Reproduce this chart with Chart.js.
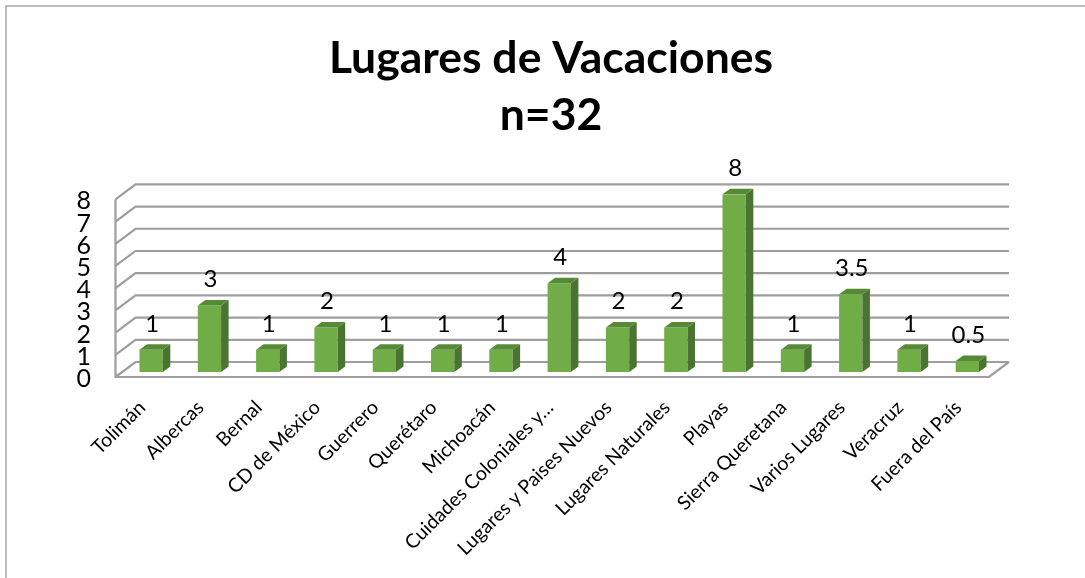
<!DOCTYPE html>
<html>
<head>
<meta charset="utf-8">
<title>Lugares de Vacaciones</title>
<script src="https://cdn.jsdelivr.net/npm/chart.js@4"></script>
<style>
  html, body { margin: 0; padding: 0; background: #fff; overflow: hidden; }
  canvas { display: block; }
</style>
</head>
<body>
<canvas id="myChart" width="1085" height="578"></canvas>
<script>
var titleLines = ["Lugares de Vacaciones", "n=32"];
var categories = [
  "Tolimán", "Albercas", "Bernal", "CD de México", "Guerrero", "Querétaro",
  "Michoacán", "Cuidades Coloniales y…", "Lugares y Paises Nuevos",
  "Lugares Naturales", "Playas", "Sierra Queretana", "Varios Lugares",
  "Veracruz", "Fuera del País"
];
var yValues = [1, 3, 1, 2, 1, 1, 1, 4, 2, 2, 8, 1, 3.5, 1, 0.5];
var yTicks = [0, 1, 2, 3, 4, 5, 6, 7, 8];

var fontName = "Lato, Carlito, Calibri, sans-serif";
var gridColor = "#9e9e9e";

// fake 3D: walls and floor behind the bars, sides and tops on them
var walls = {
  id: "walls",
  beforeDatasetsDraw: function (chart) {
    var ctx = chart.ctx;
    var y = chart.scales.y;
    var left = chart.chartArea.left - 6.5;
    var right = chart.chartArea.right - 7.5;
    ctx.save();
    ctx.strokeStyle = gridColor;
    ctx.lineWidth = 2.2;
    yTicks.forEach(function (t) {
      var py = y.getPixelForValue(t) + 5;
      ctx.beginPath();
      ctx.moveTo(left, py);
      ctx.lineTo(left + 20, py - 15);
      ctx.lineTo(right + 20, py - 15);
      ctx.stroke();
    });
    ctx.beginPath();
    ctx.moveTo(left, y.getPixelForValue(8) + 5);
    ctx.lineTo(left, y.getPixelForValue(0) + 5);
    ctx.lineTo(right, y.getPixelForValue(0) + 5);
    ctx.lineTo(right + 20, y.getPixelForValue(0) - 10);
    ctx.stroke();
    ctx.restore();
  },
  afterDatasetsDraw: function (chart) {
    var ctx = chart.ctx;
    var bars = chart.getDatasetMeta(0).data;
    ctx.save();
    bars.forEach(function (bar, i) {
      var x0 = bar.x - bar.width / 2;
      var x1 = bar.x + bar.width / 2;
      // side
      ctx.fillStyle = "#4b7331";
      ctx.beginPath();
      ctx.moveTo(x1, bar.y);
      ctx.lineTo(x1 + 7.5, bar.y - 5.5);
      ctx.lineTo(x1 + 7.5, bar.base - 5.5);
      ctx.lineTo(x1, bar.base);
      ctx.fill();
      // top
      ctx.fillStyle = "#578a37";
      ctx.beginPath();
      ctx.moveTo(x0, bar.y);
      ctx.lineTo(x0 + 7.5, bar.y - 5.5);
      ctx.lineTo(x1 + 7.5, bar.y - 5.5);
      ctx.lineTo(x1, bar.y);
      ctx.fill();
      // value above the bar
      ctx.fillStyle = "#000";
      ctx.font = "24px " + fontName;
      ctx.textAlign = "center";
      ctx.textBaseline = "middle";
      ctx.fillText(String(yValues[i]), bar.x + 1, bar.y - 26);
    });
    ctx.restore();
  }
};

// chart frame, only top and left show in the picture
var frame = {
  id: "frame",
  beforeDraw: function (chart) {
    var ctx = chart.ctx;
    ctx.save();
    ctx.fillStyle = "#fff";
    ctx.fillRect(0, 0, chart.width, chart.height);
    ctx.strokeStyle = "#a6a6a6";
    ctx.lineWidth = 1.5;
    ctx.beginPath();
    ctx.moveTo(6, chart.height);
    ctx.lineTo(6, 6);
    ctx.lineTo(chart.width, 6);
    ctx.stroke();
    ctx.restore();
  }
};

new Chart("myChart", {
  type: "bar",
  data: {
    labels: categories,
    datasets: [
      {
        data: yValues,
        backgroundColor: "#70ad47",
        barPercentage: 0.4,
        categoryPercentage: 1,
      },
    ],
  },
  plugins: [frame, walls],
  options: {
    responsive: false,
    animation: false,
    layout: { padding: { top: 0, right: 0, bottom: 0, left: 17 } },
    plugins: {
      legend: { display: false },
      tooltip: { enabled: false },
      title: {
        display: true,
        text: titleLines,
        color: "#000",
        font: { family: fontName, size: 44.5, weight: "bold", lineHeight: 1.285 },
        padding: { top: 30, bottom: 50 },
      },
    },
    scales: {
      x: {
        grid: { display: false, drawTicks: false },
        border: { display: false },
        ticks: {
          autoSkip: false,
          minRotation: 45,
          maxRotation: 45,
          padding: 24,
          labelOffset: -9,
          color: "#000",
          font: { family: fontName, size: 19.5 },
        },
        afterFit: function (scale) { scale.height = 206; },
      },
      y: {
        min: 0,
        max: 8,
        afterBuildTicks: function (scale) {
          scale.ticks = yTicks.map(function (t) { return { value: t }; });
        },
        grid: { display: false, drawTicks: false },
        border: { display: false },
        ticks: {
          autoSkip: false,
          padding: 31,
          labelOffset: 7,
          color: "#000",
          font: { family: fontName, size: 25 },
        },
        afterFit: function (scale) { scale.width = 105; },
      },
      // empty axis, only keeps the margin right of the plot
      rightMargin: {
        position: "right",
        grid: { display: false, drawTicks: false },
        border: { display: false },
        ticks: { display: false },
        afterFit: function (scale) { scale.width = 88.5; },
      },
    },
  },
});
</script>
</body>
</html>
